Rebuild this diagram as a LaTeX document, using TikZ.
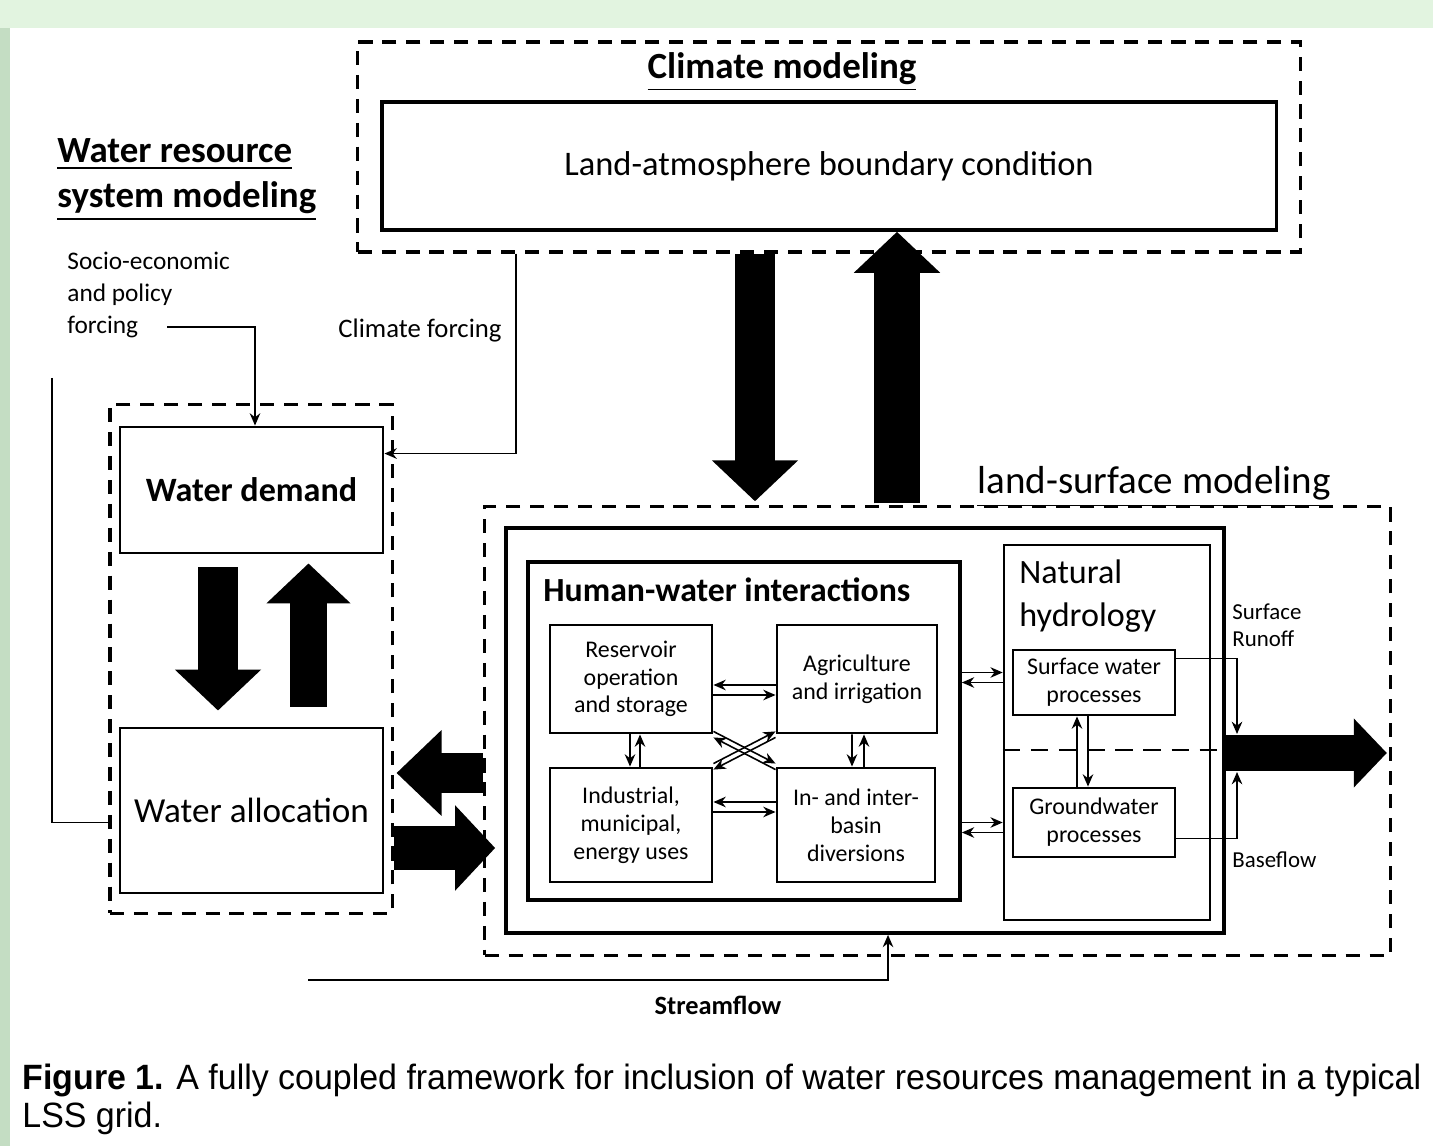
\documentclass[tikz,border=0pt]{standalone}
\usepackage{fontspec}
\setmainfont{Carlito}
\newfontfamily\capfont[FakeStretch=0.965]{Liberation Sans}
\usetikzlibrary{arrows.meta,positioning,calc}
\definecolor{slideLight}{HTML}{E2F4E0}
\definecolor{slideGreen}{HTML}{C4DDC3}

\begin{document}
\begin{tikzpicture}[x=0.01cm,y=-0.01cm,
  group/.style={draw,line width=0.9pt,dash pattern=on 4pt off 2.8pt,inner sep=0pt},
  box/.style={draw,line width=#1,align=center,inner sep=1pt},
  box/.default=0.8pt,
  flow/.style={line width=0.45pt,-{Stealth[length=3.5pt,width=3pt]}},
  bigarrow/.style={line width=0.40cm,-{Triangle[width=0.84cm,length=0.41cm]}},
  smalltext/.style={font=\fontsize{6.8}{7.9}\selectfont,align=center}
]
  \useasboundingbox (0,0) rectangle (1433,1146);
  \fill[white] (0,0) rectangle (1433,1146);
  \fill[slideLight] (0,0) rectangle (1433,28);
  \fill[slideGreen] (0,28) rectangle (10,1146);

  % climate part
  \node[group,minimum width=9.42cm,minimum height=2.10cm] (clim) at (829,147) {};
  \node[font=\bfseries\fontsize{10.5}{12}\selectfont] (climt) at (782,72) {\underline{Climate modeling}};
  \node[box=1pt,minimum width=8.94cm,minimum height=1.28cm,font=\fontsize{9.8}{12}\selectfont] (lab) at (829,166)
    {Land-atmosphere boundary condition};

  % water resource system part
  \node[anchor=west,align=left,font=\bfseries\fontsize{10.5}{12.8}\selectfont] (wrt) at (45,180)
    {\underline{Water resource}\\\underline{system modeling}};
  \node[anchor=west,align=left,font=\fontsize{7.2}{9.2}\selectfont] (socio) at (55,295)
    {Socio-economic\\and policy\\forcing};
  \node[font=\fontsize{7.6}{9}\selectfont] (cforce) at (420,331) {Climate forcing};
  \coordinate (sock) at (167,327);
  \coordinate (loopk) at (52,378);

  \node[group,minimum width=2.82cm,minimum height=5.08cm] (wrbox) at (251,659) {};
  \node[box,minimum width=2.63cm,minimum height=1.26cm,font=\bfseries\fontsize{9.7}{12}\selectfont] (demand) at (251.5,490)
    {Water demand};
  \node[box,minimum width=2.63cm,minimum height=1.65cm,font=\fontsize{10}{12}\selectfont] (alloc) at (251.5,810.5)
    {Water allocation};

  % land-surface part
  \node[group,minimum width=9.05cm,minimum height=4.48cm] (lsbox) at (937.5,731) {};
  \node[font=\fontsize{11.1}{13}\selectfont] (lst) at (1154,487) {\underline{land-surface modeling}};
  \node[box=1pt,minimum width=7.18cm,minimum height=4.05cm] (outer) at (865,730.5) {};
  \node[box=1pt,minimum width=4.32cm,minimum height=3.38cm] (human) at (744,731) {};
  \node[anchor=west,font=\bfseries\fontsize{9.6}{12}\selectfont] (humant) at (531,590) {Human-water interactions};

  \node[box,smalltext,minimum width=1.62cm,minimum height=1.08cm] (res) at (631,679)
    {Reservoir\\operation\\and storage};
  \node[box,smalltext,minimum width=1.60cm,minimum height=1.08cm] (agr) at (857,679)
    {Agriculture\\and irrigation};
  \node[box,smalltext,minimum width=1.62cm,minimum height=1.14cm] (ind) at (631,825)
    {Industrial,\\municipal,\\energy uses};
  \node[box,smalltext,minimum width=1.58cm,minimum height=1.14cm] (div) at (856,825)
    {In- and inter-\\basin\\diversions};

  \node[box=0.7pt,minimum width=2.06cm,minimum height=3.75cm] (nat) at (1107,732.5) {};
  \node[anchor=west,align=left,font=\fontsize{9.7}{12}\selectfont] (natt) at (1007,596) {Natural\\hydrology};
  \node[box,smalltext,minimum width=1.62cm,minimum height=0.65cm] (surf) at (1094,682.5)
    {Surface water\\processes};
  \node[box,smalltext,minimum width=1.62cm,minimum height=0.69cm] (gw) at (1094,822.5)
    {Groundwater\\processes};
  \node[anchor=west,align=left,font=\fontsize{6.5}{7.6}\selectfont] (runoff) at (1220,625) {Surface\\Runoff};
  \node[anchor=west,font=\fontsize{6.5}{7.6}\selectfont] (basef) at (1220,860) {Baseflow};
  \coordinate (runk) at (1237,734);
  \coordinate (basek) at (1237,772);
  \coordinate (strk) at (308,980);
  \node[font=\bfseries\fontsize{7.5}{9}\selectfont] (strt) at (718,1005) {Streamflow};

  % caption
  \node[anchor=west,font=\capfont\fontsize{10}{12}\selectfont] (cap1) at (10,1080)
    {\textbf{Figure 1.} A fully coupled framework for inclusion of water resources management in a typical};
  \node[anchor=west,font=\capfont\fontsize{10}{12}\selectfont] (cap2) at (10,1118) {LSS grid.};

  % thin connectors
  \draw[flow] (sock) -| ([xshift=0.035cm]demand.north);
  \draw[flow] ($(clim.south west)+(160,0)$) |- ([yshift=-0.28cm]demand.north east);
  \draw[line width=0.5pt] (loopk) |- ($(wrbox.west |- alloc.center)+(0,12)$);
  \draw[flow] (strk) -| ([xshift=0.23cm]outer.south);

  \draw[flow] ([yshift=-0.06cm]agr.west) -- ([yshift=-0.06cm]res.east);
  \draw[flow] ([yshift=-0.16cm]res.east) -- ([yshift=-0.16cm]agr.west);
  \draw[flow] ([yshift=0.23cm]div.west) -- ([yshift=0.23cm]ind.east);
  \draw[flow] ([yshift=0.13cm]ind.east) -- ([yshift=0.13cm]div.west);
  \draw[flow] ([xshift=-0.01cm]res.south) -- ([xshift=-0.01cm]ind.north);
  \draw[flow] ([xshift=0.09cm]ind.north) -- ([xshift=0.09cm]res.south);
  \draw[flow] ([xshift=-0.05cm]agr.south) -- ([xshift=-0.04cm]div.north);
  \draw[flow] ([xshift=0.08cm]div.north) -- ([xshift=0.07cm]agr.south);
  \draw[flow] ([yshift=0.03cm]res.south east) -- ([yshift=0.03cm]div.north west);
  \draw[flow] ([yshift=-0.03cm]div.north west) -- ([yshift=-0.03cm]res.south east);
  \draw[flow] ([yshift=0.03cm]ind.north east) -- ([yshift=0.03cm]agr.south west);
  \draw[flow] ([yshift=-0.03cm]agr.south west) -- ([yshift=-0.03cm]ind.north east);

  \draw[flow] ([yshift=0.1cm]human.east |- surf.west) -- ([yshift=0.1cm]surf.west -| nat.west);
  \draw[flow] (surf.west -| nat.west) -- (human.east |- surf.west);
  \draw[flow] (human.east |- gw.west) -- (gw.west -| nat.west);
  \draw[flow] ([yshift=-0.1cm]gw.west -| nat.west) -- ([yshift=-0.1cm]human.east |- gw.west);
  \draw[flow] ([xshift=-0.17cm]gw.north) -- ([xshift=-0.17cm]surf.south);
  \draw[flow] ([xshift=-0.06cm]surf.south) -- ([xshift=-0.06cm]gw.north);
  \draw[line width=0.5pt,dash pattern=on 5pt off 3pt] ([yshift=-0.175cm]nat.west) -- ([yshift=-0.175cm]nat.west -| outer.east);
  \draw[flow] ([yshift=-0.1cm]surf.north east) -| (runk);
  \draw[flow] ([yshift=0.2cm]gw.south east) -| (basek);

  % block arrows
  \draw[bigarrow] ($(clim.south)+(-74,0)$) -- ($(lsbox.north)+(-182.5,-4)$);
  \draw[bigarrow,line width=0.45cm] ($(lsbox.north)+(-40.5,-2)$) -- ($(lab.south)+(68,0)$);
  \draw[bigarrow] ($(demand.south)+(-33.5,13)$) -- ($(alloc.north)+(-33.5,-16)$);
  \draw[bigarrow,line width=0.37cm,-{Triangle[width=0.82cm,length=0.40cm]}] ($(alloc.north)+(57,-20)$) -- ($(demand.south)+(57,9)$);
  \draw[bigarrow,line width=0.39cm,-{Triangle[width=0.83cm,length=0.45cm]}] ($(lsbox.west)+(0,42)$) -- ($(alloc.east)+(12,-37.5)$);
  \draw[bigarrow,line width=0.43cm,-{Triangle[width=0.83cm,length=0.40cm]}] ($(alloc.east)+(10,37.5)$) -- ($(lsbox.west)+(12,117)$);
  \draw[bigarrow,line width=0.35cm,-{Triangle[width=0.67cm,length=0.33cm]}] ($(outer.east)+(0,22.5)$) -- ($(lsbox.east)+(-5,22)$);
\end{tikzpicture}
\end{document}
